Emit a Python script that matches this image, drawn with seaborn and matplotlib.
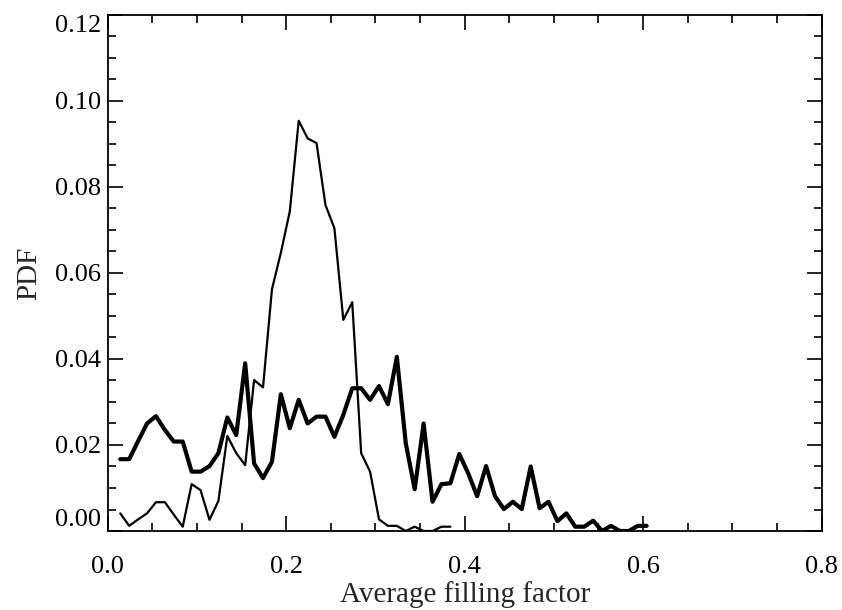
import matplotlib
matplotlib.use("Agg")
import matplotlib.pyplot as plt
import seaborn as sns
import pandas as pd
from matplotlib.ticker import MultipleLocator, FormatStrFormatter

# x positions of the bins (average filling factor)
x_thick = [0.014, 0.024, 0.034, 0.044, 0.054, 0.064, 0.074, 0.084, 0.094, 0.104,
           0.114, 0.124, 0.134, 0.144, 0.154, 0.164, 0.174, 0.184, 0.194, 0.204,
           0.214, 0.224, 0.234, 0.244, 0.254, 0.264, 0.274, 0.284, 0.294, 0.304,
           0.314, 0.324, 0.334, 0.344, 0.354, 0.364, 0.374, 0.384, 0.394, 0.404,
           0.414, 0.424, 0.434, 0.444, 0.454, 0.464, 0.474, 0.484, 0.494, 0.504,
           0.514, 0.524, 0.534, 0.544, 0.554, 0.564, 0.574, 0.584, 0.594, 0.604]
pdf_thick = [0.0167, 0.0167, 0.0209, 0.0250, 0.0267, 0.0235, 0.0208, 0.0208, 0.0138, 0.0138,
             0.0151, 0.0181, 0.0264, 0.0223, 0.0390, 0.0157, 0.0123, 0.0161, 0.0318, 0.0239,
             0.0305, 0.0250, 0.0266, 0.0266, 0.0219, 0.0270, 0.0332, 0.0332, 0.0305, 0.0337,
             0.0295, 0.0405, 0.0204, 0.0097, 0.0250, 0.0068, 0.0109, 0.0111, 0.0179, 0.0134,
             0.0081, 0.0151, 0.0081, 0.0051, 0.0068, 0.0051, 0.0150, 0.0053, 0.0068, 0.0023,
             0.0041, 0.0010, 0.0010, 0.0024, 0.0000, 0.0012, 0.0000, 0.0000, 0.0012, 0.0012]

x_thin = x_thick[:38]
pdf_thin = [0.0041, 0.0012, 0.0027, 0.0041, 0.0067, 0.0067, 0.0038, 0.0010, 0.0109, 0.0095,
            0.0026, 0.0070, 0.0221, 0.0181, 0.0153, 0.0351, 0.0334, 0.0562, 0.0647, 0.0743,
            0.0954, 0.0913, 0.0902, 0.0758, 0.0704, 0.0491, 0.0532, 0.0181, 0.0138, 0.0027,
            0.0012, 0.0012, 0.0000, 0.0010, 0.0000, 0.0000, 0.0010, 0.0010]

x_ticks = [0.0, 0.2, 0.4, 0.6, 0.8]
y_ticks = [0.00, 0.02, 0.04, 0.06, 0.08, 0.10, 0.12]

sns.set_style("ticks")
plt.rcParams['font.family'] = ['Liberation Serif', 'DejaVu Serif']

fig = plt.figure(figsize=(8.42, 6.10), dpi=100)
ax = fig.add_axes([0.128, 0.1295, 0.8477, 0.846])

df_thick = pd.DataFrame({"x": x_thick, "pdf": pdf_thick})
df_thin = pd.DataFrame({"x": x_thin, "pdf": pdf_thin})

sns.lineplot(data=df_thin, x="x", y="pdf", ax=ax, color="black", linewidth=1.6,
             estimator=None, sort=False)
sns.lineplot(data=df_thick, x="x", y="pdf", ax=ax, color="black", linewidth=3.0,
             estimator=None, sort=False)

ax.set_xlim(0, 0.8)
ax.set_ylim(0, 0.12)
ax.set_xticks(x_ticks)
ax.set_yticks(y_ticks)
ax.xaxis.set_major_formatter(FormatStrFormatter('%.1f'))
ax.yaxis.set_major_formatter(FormatStrFormatter('%.2f'))
ax.xaxis.set_minor_locator(MultipleLocator(0.05))
ax.yaxis.set_minor_locator(MultipleLocator(0.005))
ax.tick_params(which='both', direction='in', top=True, right=True,
               color='black', width=1.2, labelsize=19, labelcolor='black')
ax.tick_params(which='major', length=11)
ax.tick_params(which='minor', length=6)
ax.tick_params(axis='x', which='major', pad=18)
ax.tick_params(axis='y', which='major', pad=5)
for s in ax.spines.values():
    s.set_linewidth(1.3)
    s.set_color('black')

fig.canvas.draw()
ylabels = ax.get_yticklabels()
ylabels[0].set_va('bottom')
ylabels[-1].set_va('top')

ax.set_xlabel("Average filling factor", fontsize=21, labelpad=2)
ax.set_ylabel("PDF", fontsize=21, labelpad=9)

fig.savefig("out.png", dpi=100)
